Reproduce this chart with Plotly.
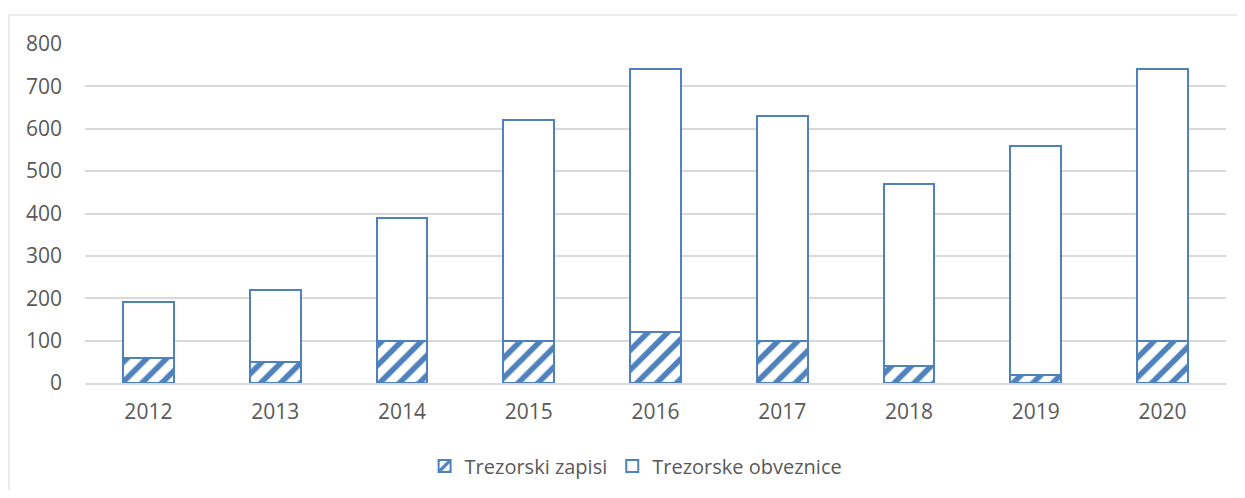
import plotly.graph_objects as go

years = ["2012", "2013", "2014", "2015", "2016", "2017", "2018", "2019", "2020"]
zapisi = [60, 50, 100, 100, 120, 100, 40, 20, 100]
obveznice = [130, 170, 290, 520, 620, 530, 430, 540, 640]
y_ticks = [0, 100, 200, 300, 400, 500, 600, 700, 800]

blue = "#4F81BD"
# page body has an 8px margin; compensate
off = 8
W, H = 1245 - 2 * off, 498 - 2 * off
ml, mt = 85 - off, 44 - off
pw, ph = 1141, 339
mr = W - ml - pw
mb = H - mt - ph

fig = go.Figure()
fig.add_trace(go.Bar(
    x=years, y=zapisi, name="Trezorski zapisi",
    marker=dict(color="white", line=dict(color=blue, width=2),
                pattern=dict(shape="/", fgcolor=blue, bgcolor="white", fgopacity=1,
                             size=14, solidity=0.4, fillmode="replace")),
))
fig.add_trace(go.Bar(
    x=years, y=obveznice, name="Trezorske obveznice",
    marker=dict(color="white", line=dict(color=blue, width=2)),
))

x0 = (9 - off - ml) / pw
y1 = 1 + (mt - (15 - off)) / ph
fig.add_shape(type="line", xref="paper", yref="paper", x0=x0, x1=x0, y0=-2, y1=y1,
              line=dict(color="#D9D9D9", width=1))
fig.add_shape(type="line", xref="paper", yref="paper", x0=x0, x1=2, y0=y1, y1=y1,
              line=dict(color="#D9D9D9", width=1))

fig.update_layout(
    width=W, height=H, barmode="stack", bargap=0.6,
    margin=dict(l=ml, r=mr, t=mt, b=mb, autoexpand=False),
    plot_bgcolor="white", paper_bgcolor="white",
    font=dict(family="Open Sans, Liberation Sans, sans-serif", size=21, color="#595959"),
    legend=dict(orientation="h", x=0.483, xanchor="center",
                yref="container", y=(H - (466 - off)) / H, yanchor="middle",
                font=dict(size=20, color="#595959"), traceorder="normal"),
    yaxis=dict(range=[0, 800], tickvals=y_ticks, showgrid=True, gridcolor="#D9D9D9",
               gridwidth=1.5, zeroline=False, showline=False, ticks="", ticklabelstandoff=22,
               tickfont=dict(size=21), automargin=False),
    xaxis=dict(showline=True, linecolor="#D9D9D9", linewidth=1.5, ticks="", ticklabelstandoff=9,
               tickfont=dict(size=21), automargin=False),
)
fig.write_html("out.html")
